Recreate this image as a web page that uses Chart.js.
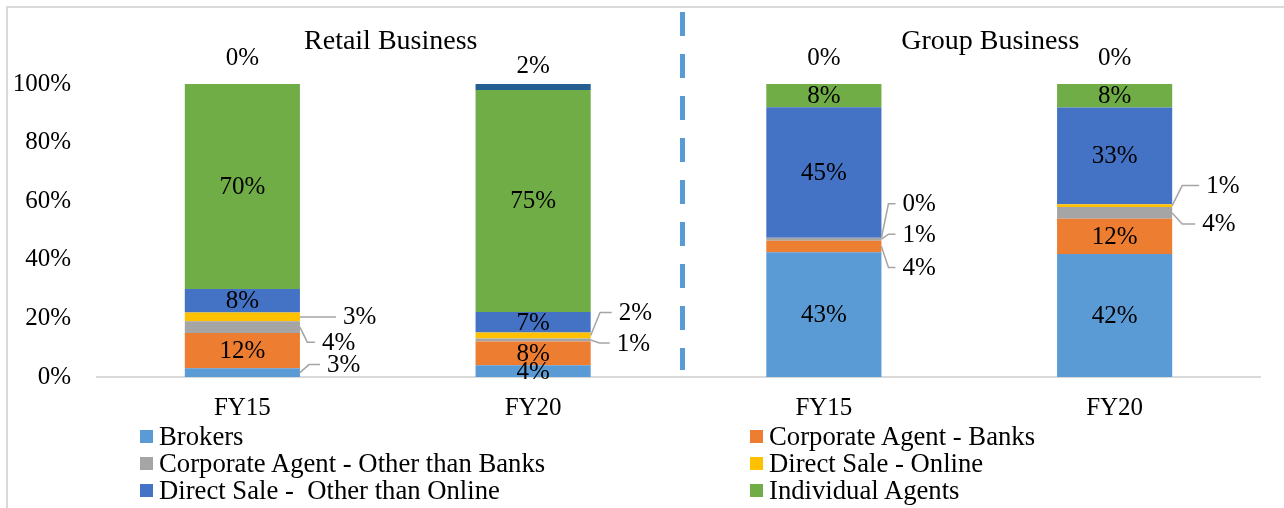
<!DOCTYPE html>
<html>
<head>
<meta charset="utf-8">
<script src="https://cdn.jsdelivr.net/npm/chart.js@4.4.1/dist/chart.umd.min.js"></script>
<style>
  body { margin: 0; background: #fff; }
  #wrap { position: relative; width: 1284px; height: 508px; overflow: hidden;
          font-family: 'Liberation Serif', 'Times New Roman', serif; }
  #frame { position: absolute; left: 6px; top: 6px; width: 1400px; height: 600px;
           border-left: 2px solid #d9d9d9; border-top: 2px solid #d9d9d9; }
  canvas { position: absolute; left: 0; top: 0; }
  .sw { position: absolute; width: 13px; height: 13px; }
  .lt { position: absolute; font-size: 26.7px; line-height: 27px; color: #000; white-space: pre; }
</style>
</head>
<body>
<div id="wrap">
  <div id="frame"></div>
  <canvas id="mainChart" width="1284" height="508"></canvas>
  <div id="legend"></div>
</div>
<script>
const categories = ['FY15', 'FY20', 'FY15', 'FY20'];
const groupTitles = ['Retail Business', 'Group Business'];

const brokers        = [3, 4, 43, 42];
const caBanks        = [12, 8, 4, 12];
const caOther        = [4, 1, 1, 4];
const dsOnline       = [3, 2, 0, 1];
const dsOther        = [8, 7, 45, 33];
const individual     = [70, 75, 8, 8];
const others         = [0, 2, 0, 0];

const seriesNames = ['Brokers', 'Corporate Agent - Banks', 'Corporate Agent - Other than Banks',
  'Direct Sale - Online', 'Direct Sale -  Other than Online', 'Individual Agents', 'Others'];
const seriesValues = [brokers, caBanks, caOther, dsOnline, dsOther, individual, others];
const seriesColors = ['#5b9bd5', '#ed7d31', '#a5a5a5', '#ffc000', '#4472c4', '#70ad47', '#255e91'];

const FONT = "'Liberation Serif', 'Times New Roman', serif";

// 100% stacked: each bar normalised to its total
const totals = categories.map((c, j) => seriesValues.reduce((s, v) => s + v[j], 0));

// callout labels: [dx from bar right edge, dy from segment centre]
const callouts = {
  '0-0': [27, -8], '2-0': [22, 15], '3-0': [43, 0],
  '2-1': [26, 3], '3-1': [28, -23],
  '1-2': [21, 21], '2-2': [21, -5], '3-2': [21, -34],
  '2-3': [30, 11], '3-3': [34, -20]
};
// labels above the stack (Others series): dy from segment top
const aboveDy = [-26, -18, -26, -26];

const labelPlugin = {
  id: 'segLabels',
  afterDatasetsDraw(chart) {
    const c = chart.ctx;
    const xs = chart.scales.x;
    const area = chart.chartArea;
    c.save();

    // dashed divider between the two groups
    const xd = (xs.getPixelForTick(1) + xs.getPixelForTick(2)) / 2 + 4;
    c.strokeStyle = '#5b9bd5';
    c.lineWidth = 5;
    c.setLineDash([24, 18]);
    c.beginPath();
    c.moveTo(xd, area.top - 72);
    c.lineTo(xd, area.bottom - 7);
    c.stroke();
    c.setLineDash([]);

    // group titles
    c.fillStyle = '#000';
    c.font = '28px ' + FONT;
    c.textAlign = 'center';
    c.textBaseline = 'middle';
    c.fillText(groupTitles[0], (xs.getPixelForTick(0) + xs.getPixelForTick(1)) / 2 + 3, area.top - 42);
    c.fillText(groupTitles[1], (xs.getPixelForTick(2) + xs.getPixelForTick(3)) / 2 + 21, area.top - 42);

    // data labels
    c.font = '25px ' + FONT;
    seriesValues.forEach((vals, i) => {
      const meta = chart.getDatasetMeta(i);
      meta.data.forEach((el, j) => {
        const p = el.getProps(['x', 'y', 'base', 'width'], true);
        const yc = (p.y + p.base) / 2;
        const txt = vals[j] + '%';
        if (i === 6) {
          c.textAlign = 'center';
          c.fillText(txt, p.x, p.y + aboveDy[j]);
          return;
        }
        const co = callouts[i + '-' + j];
        if (!co) {
          c.textAlign = 'center';
          c.fillText(txt, p.x, yc + 1);
          return;
        }
        const right = p.x + p.width / 2;
        const lx = right + co[0];
        const ly = yc + co[1];
        c.strokeStyle = '#a5a5a5';
        c.lineWidth = 1.5;
        c.beginPath();
        c.moveTo(right, yc);
        c.lineTo(right + Math.min(10, co[0] / 3), ly);
        c.lineTo(lx - 7, ly);
        c.stroke();
        c.textAlign = 'left';
        c.fillText(txt, lx, ly + 1);
      });
    });
    c.restore();
  }
};

const ctx = document.getElementById('mainChart').getContext('2d');
new Chart(ctx, {
  type: 'bar',
  data: {
    labels: categories,
    datasets: seriesValues.map((vals, i) => ({
      label: seriesNames[i],
      data: vals.map((v, j) => v / totals[j] * 100),
      backgroundColor: seriesColors[i],
      borderWidth: 0,
      barPercentage: 0.396,
      categoryPercentage: 1
    }))
  },
  options: {
    responsive: false,
    animation: false,
    layout: { padding: { top: 84, right: 24, left: 0, bottom: 0 } },
    plugins: { legend: { display: false }, tooltip: { enabled: false } },
    scales: {
      x: {
        stacked: true,
        grid: { display: false, drawTicks: false },
        border: { color: '#d9d9d9', width: 2 },
        ticks: { color: '#000', font: { family: FONT, size: 25 }, padding: 16 },
        afterFit: s => { s.height = 131; }
      },
      y: {
        stacked: true,
        min: 0,
        max: 100,
        grid: { display: false, drawTicks: false },
        border: { display: false },
        ticks: { stepSize: 20, color: '#000', font: { family: FONT, size: 25 }, padding: 26,
                 callback: v => v + '%' },
        afterFit: s => { s.width = 97; }
      }
    }
  },
  plugins: [labelPlugin]
});

// legend (two columns, Others not listed)
const legend = document.getElementById('legend');
for (let k = 0; k < 6; k++) {
  const left = k % 2 ? 750 : 140;
  const cy = 437 + Math.floor(k / 2) * 27;
  const sw = document.createElement('div');
  sw.className = 'sw';
  sw.style.left = left + 'px';
  sw.style.top = (cy - 7) + 'px';
  sw.style.background = seriesColors[k];
  legend.appendChild(sw);
  const t = document.createElement('div');
  t.className = 'lt';
  t.style.left = (left + 19) + 'px';
  t.style.top = (cy - 14) + 'px';
  t.textContent = seriesNames[k];
  legend.appendChild(t);
}
</script>
</body>
</html>
